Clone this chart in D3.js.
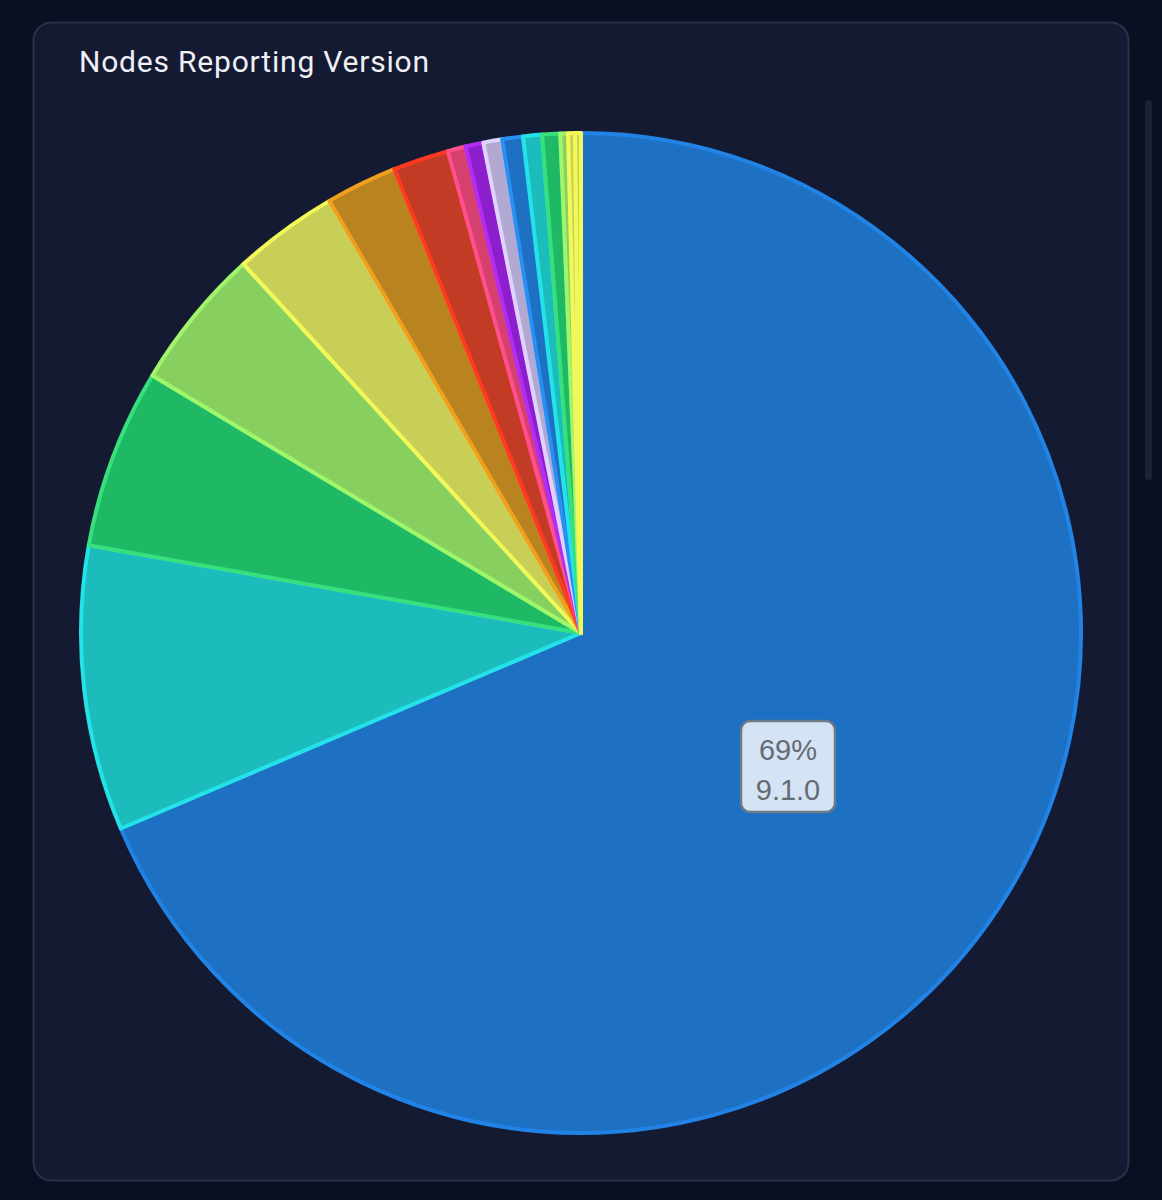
<!DOCTYPE html>
<html><head><meta charset="utf-8">
<script src="https://cdn.jsdelivr.net/npm/d3@7"></script>
<style>body{margin:0;background:#0a0f22;}svg{display:block}</style>
</head><body>
<svg id="c" width="1162" height="1200"></svg>
<script>
const versions = ["9.1.0","9.0.0","8.1.2","8.1.1","8.1.0","8.0.2","8.0.1","8.0.0","7.1.0","7.0.2","7.0.1","7.0.0","6.2.0","6.1.0","6.0.0","5.0.0"];
const shares = [68.6,9.2,5.8,4.6,3.4,2.3,1.8,0.58,0.58,0.61,0.67,0.61,0.58,0.25,0.22,0.19];
const fills = ["#1e71c2","#1dbcbc","#1fb865","#87d05f","#c8cf57","#b9841f","#c13b25","#d6406f","#8c1fcb","#b2a9d2","#1e71c2","#1dbcbc","#1fb865","#87d05f","#c8cf57","#c8cf57"];
const strokes = ["#2183e6","#24e3e8","#37e07c","#a0f56a","#f2f75a","#f0a01c","#ff3a22","#ff4f8c","#b22df2","#e0d2ff","#2a8ff2","#24e3e8","#37e07c","#a0f56a","#f2f75a","#f2f75a"];

const svg = d3.select("#c");
svg.append("rect").attr("x",33.5).attr("y",22.5).attr("width",1095).attr("height",1158)
  .attr("rx",18).attr("fill","#131a31").attr("stroke","#2b3148").attr("stroke-width",2);
svg.append("rect").attr("x",1145).attr("y",100).attr("width",7).attr("height",380).attr("rx",3).attr("fill","#1c2233");
svg.append("text").attr("x",79).attr("y",72).attr("fill","#eef0f5")
  .attr("font-family","Roboto, sans-serif").attr("font-size",30).attr("letter-spacing",0.8).text("Nodes Reporting Version");

const data = versions.map((v,i)=>({v, s:shares[i], i}));
const pie = d3.pie().value(d=>d.s).sort(null);
const arc = d3.arc().innerRadius(0).outerRadius(500);
const g = svg.append("g").attr("transform","translate(581,633)");
const arcs = pie(data);
g.selectAll("path").data(arcs).join("path")
  .attr("d",arc).attr("fill",d=>fills[d.data.i]).attr("stroke",d=>strokes[d.data.i])
  .attr("stroke-width",4).attr("stroke-linejoin","round");

const a0 = arcs[0];
const total = d3.sum(shares);
const lbl = g.append("g").attr("transform","translate(207,133)");
lbl.append("rect").attr("x",-47).attr("y",-45).attr("width",94).attr("height",91).attr("rx",9)
  .attr("fill","#d5e4f4").attr("stroke","#6d7a88").attr("stroke-width",2.5);
lbl.append("text").attr("text-anchor","middle").attr("y",-6).attr("fill","#656b72")
  .attr("font-family","'Liberation Sans', Arial, sans-serif").attr("font-size",29)
  .text(Math.round(a0.data.s/total*100)+"%");
lbl.append("text").attr("text-anchor","middle").attr("y",34).attr("fill","#656b72")
  .attr("font-family","'Liberation Sans', Arial, sans-serif").attr("font-size",29)
  .text(a0.data.v);
</script>
</body></html>
